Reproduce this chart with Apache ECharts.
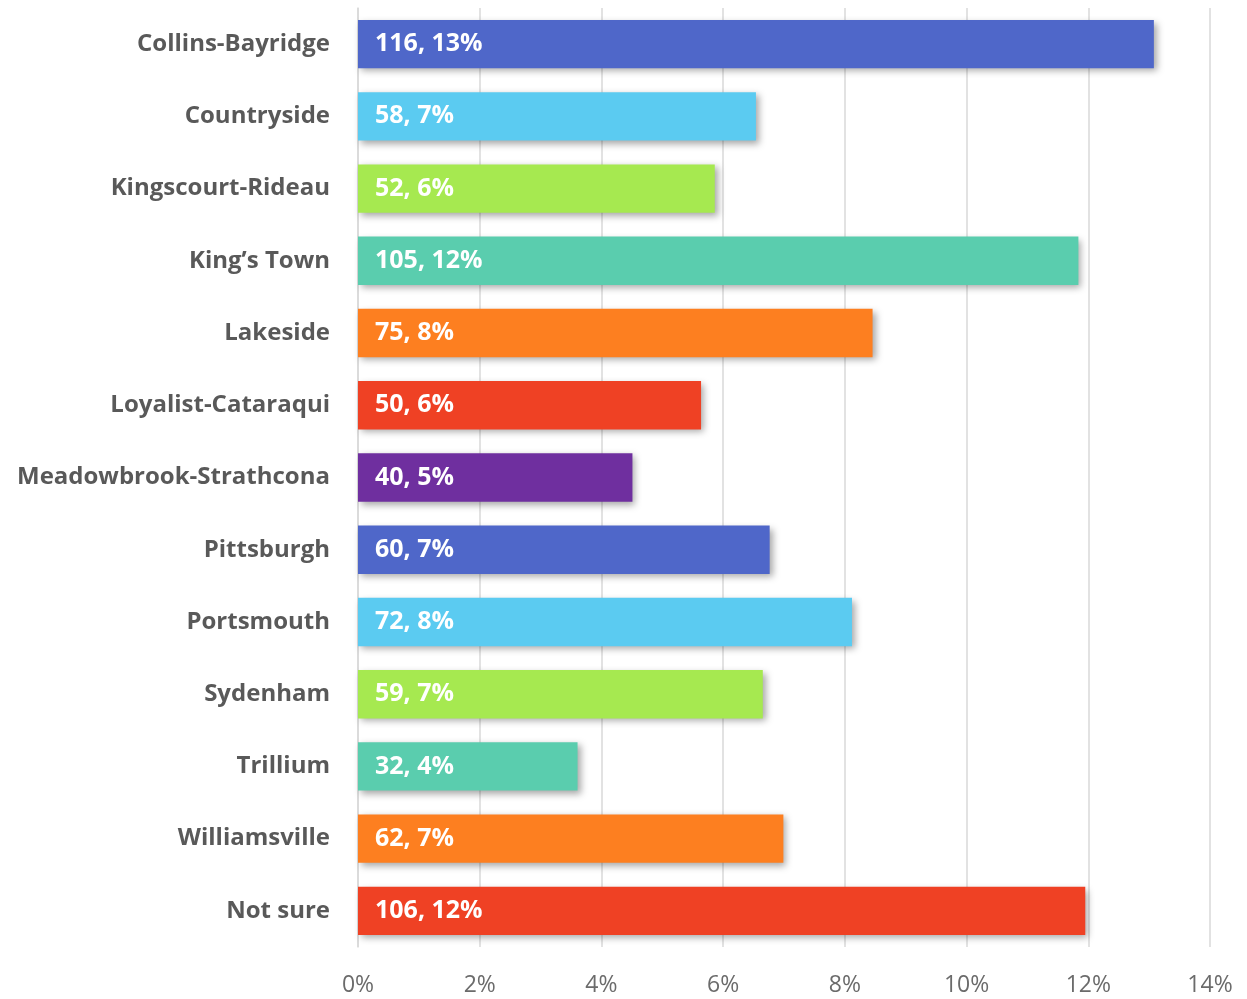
<!DOCTYPE html>
<html>
<head>
<meta charset="utf-8">
<script src="https://cdn.jsdelivr.net/npm/echarts@6/dist/echarts.min.js"></script>
<style>
  html, body { margin: 0; padding: 0; background: #fff; }
  #chart { width: 1247px; height: 999px; }
</style>
</head>
<body>
<div id="chart"></div>
<script>
// Neighbourhood responses: count per area
const categories = [
  'Collins-Bayridge', 'Countryside', 'Kingscourt-Rideau', 'King\u2019s Town',
  'Lakeside', 'Loyalist-Cataraqui', 'Meadowbrook-Strathcona', 'Pittsburgh',
  'Portsmouth', 'Sydenham', 'Trillium', 'Williamsville', 'Not sure'
];
const counts = [116, 58, 52, 105, 75, 50, 40, 60, 72, 59, 32, 62, 106];
const barColors = [
  '#4F67C9', '#5BCBF1', '#A6E950', '#5ACDAE', '#FD7F20', '#EF4124', '#6F2F9F',
  '#4F67C9', '#5BCBF1', '#A6E950', '#5ACDAE', '#FD7F20', '#EF4124'
];
const xTicks = [0, 2, 4, 6, 8, 10, 12, 14];

const total = counts.reduce((a, b) => a + b, 0);
const shares = counts.map(c => c / total * 100);

const chart = echarts.init(document.getElementById('chart'));
chart.setOption({
  animation: false,
  grid: { left: 358, right: 37, top: 8, bottom: 52, containLabel: false },
  xAxis: {
    type: 'value',
    min: xTicks[0],
    max: xTicks[xTicks.length - 1],
    interval: 2,
    axisLine: { show: false },
    axisTick: { show: false },
    axisLabel: {
      formatter: v => v + '%',
      color: '#6b6b6b',
      fontFamily: 'Open Sans',
      fontSize: 23,
      margin: 27
    },
    splitLine: { show: true, lineStyle: { color: '#d9d9d9', width: 1.5 } }
  },
  yAxis: {
    type: 'category',
    data: categories,
    inverse: true,
    axisLine: { show: true, lineStyle: { color: '#d9d9d9', width: 1.5 } },
    axisTick: { show: false },
    axisLabel: {
      color: '#595959',
      fontFamily: 'Open Sans',
      fontWeight: 'bold',
      fontSize: 24,
      margin: 28,
      padding: [5, 0, 0, 0]
    }
  },
  series: [{
    type: 'bar',
    data: shares.map((v, i) => ({
      value: v,
      itemStyle: { color: barColors[i] }
    })),
    barCategoryGap: '33%',
    itemStyle: {
      shadowColor: 'rgba(0,0,0,0.35)',
      shadowBlur: 7,
      shadowOffsetX: 3,
      shadowOffsetY: 3
    },
    label: {
      show: true,
      position: 'insideLeft',
      distance: 17,
      color: '#ffffff',
      fontFamily: 'Open Sans',
      fontWeight: 'bold',
      fontSize: 25,
      padding: [6, 0, 0, 0],
      formatter: p => counts[p.dataIndex] + ', ' + Math.round(shares[p.dataIndex]) + '%'
    }
  }]
});
</script>
</body>
</html>
